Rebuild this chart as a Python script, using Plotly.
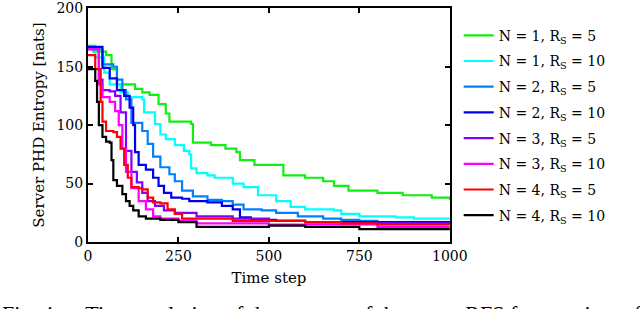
import plotly.graph_objects as go

# ---- data ----
names = ["N = 1, R<sub>S</sub> = 5", "N = 1, R<sub>S</sub> = 10",
         "N = 2, R<sub>S</sub> = 5", "N = 2, R<sub>S</sub> = 10",
         "N = 3, R<sub>S</sub> = 5", "N = 3, R<sub>S</sub> = 10",
         "N = 4, R<sub>S</sub> = 5", "N = 4, R<sub>S</sub> = 10"]
colors = ["#11ee11", "#00ffff", "#0080ff", "#0000ee",
          "#8000ff", "#ff00ff", "#ff0000", "#000000"]

t_n1_r5 = [0, 15, 50, 65, 80, 130, 150, 170, 195, 215, 225, 285, 290, 340, 380, 410, 420, 460, 540, 600, 650, 680, 720, 800, 870, 950, 1000]
h_n1_r5 = [168, 163, 160, 148, 135, 131, 128, 126, 118, 110, 103, 101, 85, 83, 80, 77, 70, 66, 57, 55, 52, 48, 44, 42, 40, 38, 36]

t_n1_r10 = [0, 20, 45, 60, 90, 110, 150, 155, 185, 200, 215, 240, 265, 280, 285, 300, 330, 350, 400, 430, 470, 520, 560, 600, 680, 700, 750, 850, 900, 1000]
h_n1_r10 = [168, 158, 145, 135, 128, 124, 122, 111, 101, 92, 88, 83, 78, 75, 63, 59, 57, 55, 50, 47, 40, 35, 30, 28, 27, 24, 22, 21, 20, 20]

t_n2_r5 = [0, 40, 70, 80, 95, 105, 120, 150, 165, 180, 200, 225, 240, 260, 290, 330, 370, 400, 430, 480, 520, 580, 650, 700, 750, 800, 1000]
h_n2_r5 = [165, 152, 150, 139, 130, 122, 102, 95, 84, 73, 64, 58, 52, 44, 39, 36, 35, 32, 28, 27, 25, 22, 20, 19, 18, 17, 16]

t_n2_r10 = [0, 40, 60, 80, 100, 115, 125, 130, 140, 160, 180, 195, 210, 230, 260, 280, 330, 370, 400, 420, 450, 520, 600, 1000]
h_n2_r10 = [167, 149, 140, 130, 125, 115, 100, 77, 66, 62, 55, 48, 42, 38, 37, 35, 34, 31, 28, 21, 19, 18, 17, 16]

t_n3_r5 = [0, 30, 40, 60, 75, 90, 105, 120, 135, 150, 165, 185, 210, 240, 300, 400, 500, 600, 700, 1000]
h_n3_r5 = [165, 139, 130, 129, 125, 111, 78, 60, 51, 42, 35, 31, 27, 25, 22, 20, 18, 17, 16, 15]

t_n3_r10 = [0, 30, 40, 60, 75, 85, 95, 105, 120, 140, 160, 180, 200, 250, 300, 400, 500, 700, 800, 1000]
h_n3_r10 = [165, 135, 124, 120, 112, 100, 80, 60, 46, 35, 28, 22, 20, 18, 16, 16, 15, 15, 13, 13]

t_n4_r5 = [0, 20, 35, 40, 50, 70, 80, 90, 100, 110, 120, 140, 150, 165, 180, 200, 220, 240, 260, 350, 400, 500, 600, 700, 800, 1000]
h_n4_r5 = [160, 148, 120, 103, 95, 94, 90, 80, 66, 55, 47, 46, 45, 38, 34, 33, 28, 24, 20, 20, 18, 18, 17, 16, 15, 15]

t_n4_r10 = [0, 20, 25, 30, 40, 50, 60, 65, 70, 80, 95, 105, 115, 125, 140, 160, 200, 250, 300, 500, 600, 700, 750, 800, 1000]
h_n4_r10 = [148, 138, 120, 100, 90, 86, 85, 70, 53, 48, 41, 35, 31, 27, 22, 20, 19, 17, 13, 14, 13, 13, 11, 11, 11]

times = [t_n1_r5, t_n1_r10, t_n2_r5, t_n2_r10, t_n3_r5, t_n3_r10, t_n4_r5, t_n4_r10]
values = [h_n1_r5, h_n1_r10, h_n2_r5, h_n2_r10, h_n3_r5, h_n3_r10, h_n4_r5, h_n4_r10]

x_ticks = [0, 250, 500, 750, 1000]
y_ticks = [0, 50, 100, 150, 200]

caption = "Fig. 4.\u2003\u2009Time evolution of the entropy of the target RFS for a variety of"

# ---- figure ----
fig = go.Figure()
for i in range(len(names)):
    fig.add_trace(go.Scatter(
        x=times[i], y=values[i], name=names[i], mode="lines",
        line=dict(color=colors[i], width=2.2, shape="hv"),
        legendgroup=str(i)))

serif = "DejaVu Serif"
axis_common = dict(showline=True, linecolor="black", linewidth=2, mirror="ticks",
                   ticks="inside", ticklen=5, tickwidth=1.5, tickcolor="black",
                   showgrid=False, zeroline=False, automargin=False,
                   tickfont=dict(family=serif, size=14, color="black"))

fig.update_layout(
    width=640, height=309,
    margin=dict(l=88, r=190, t=8, b=67),
    paper_bgcolor="white", plot_bgcolor="white",
    showlegend=True,
    legend=dict(x=1.024, y=0.95, xanchor="left", yanchor="top",
                font=dict(family=serif, size=14, color="black"),
                tracegroupgap=4.5, itemwidth=30, bgcolor="rgba(0,0,0,0)"),
    xaxis=dict(range=[0, 1000.5], tickvals=x_ticks, ticklabelstandoff=0,
               title=dict(text="Time step", standoff=10,
               font=dict(family=serif, size=15, color="black")), **axis_common),
    yaxis=dict(range=[0, 200.3], tickvals=y_ticks,
               title=dict(text="Server PHD Entropy [nats]", standoff=8,
               font=dict(family=serif, size=15, color="black")), **axis_common),
)

fig.add_annotation(text=caption, xref="paper", yref="paper", x=-88/362, y=-0.243,
                   xanchor="left", yanchor="top", showarrow=False,
                   font=dict(family="Liberation Serif", size=22, color="black"))

fig.write_html("out.html", config={"displayModeBar": False},
               post_script="document.body.style.margin='0';document.body.style.overflow='hidden';")
